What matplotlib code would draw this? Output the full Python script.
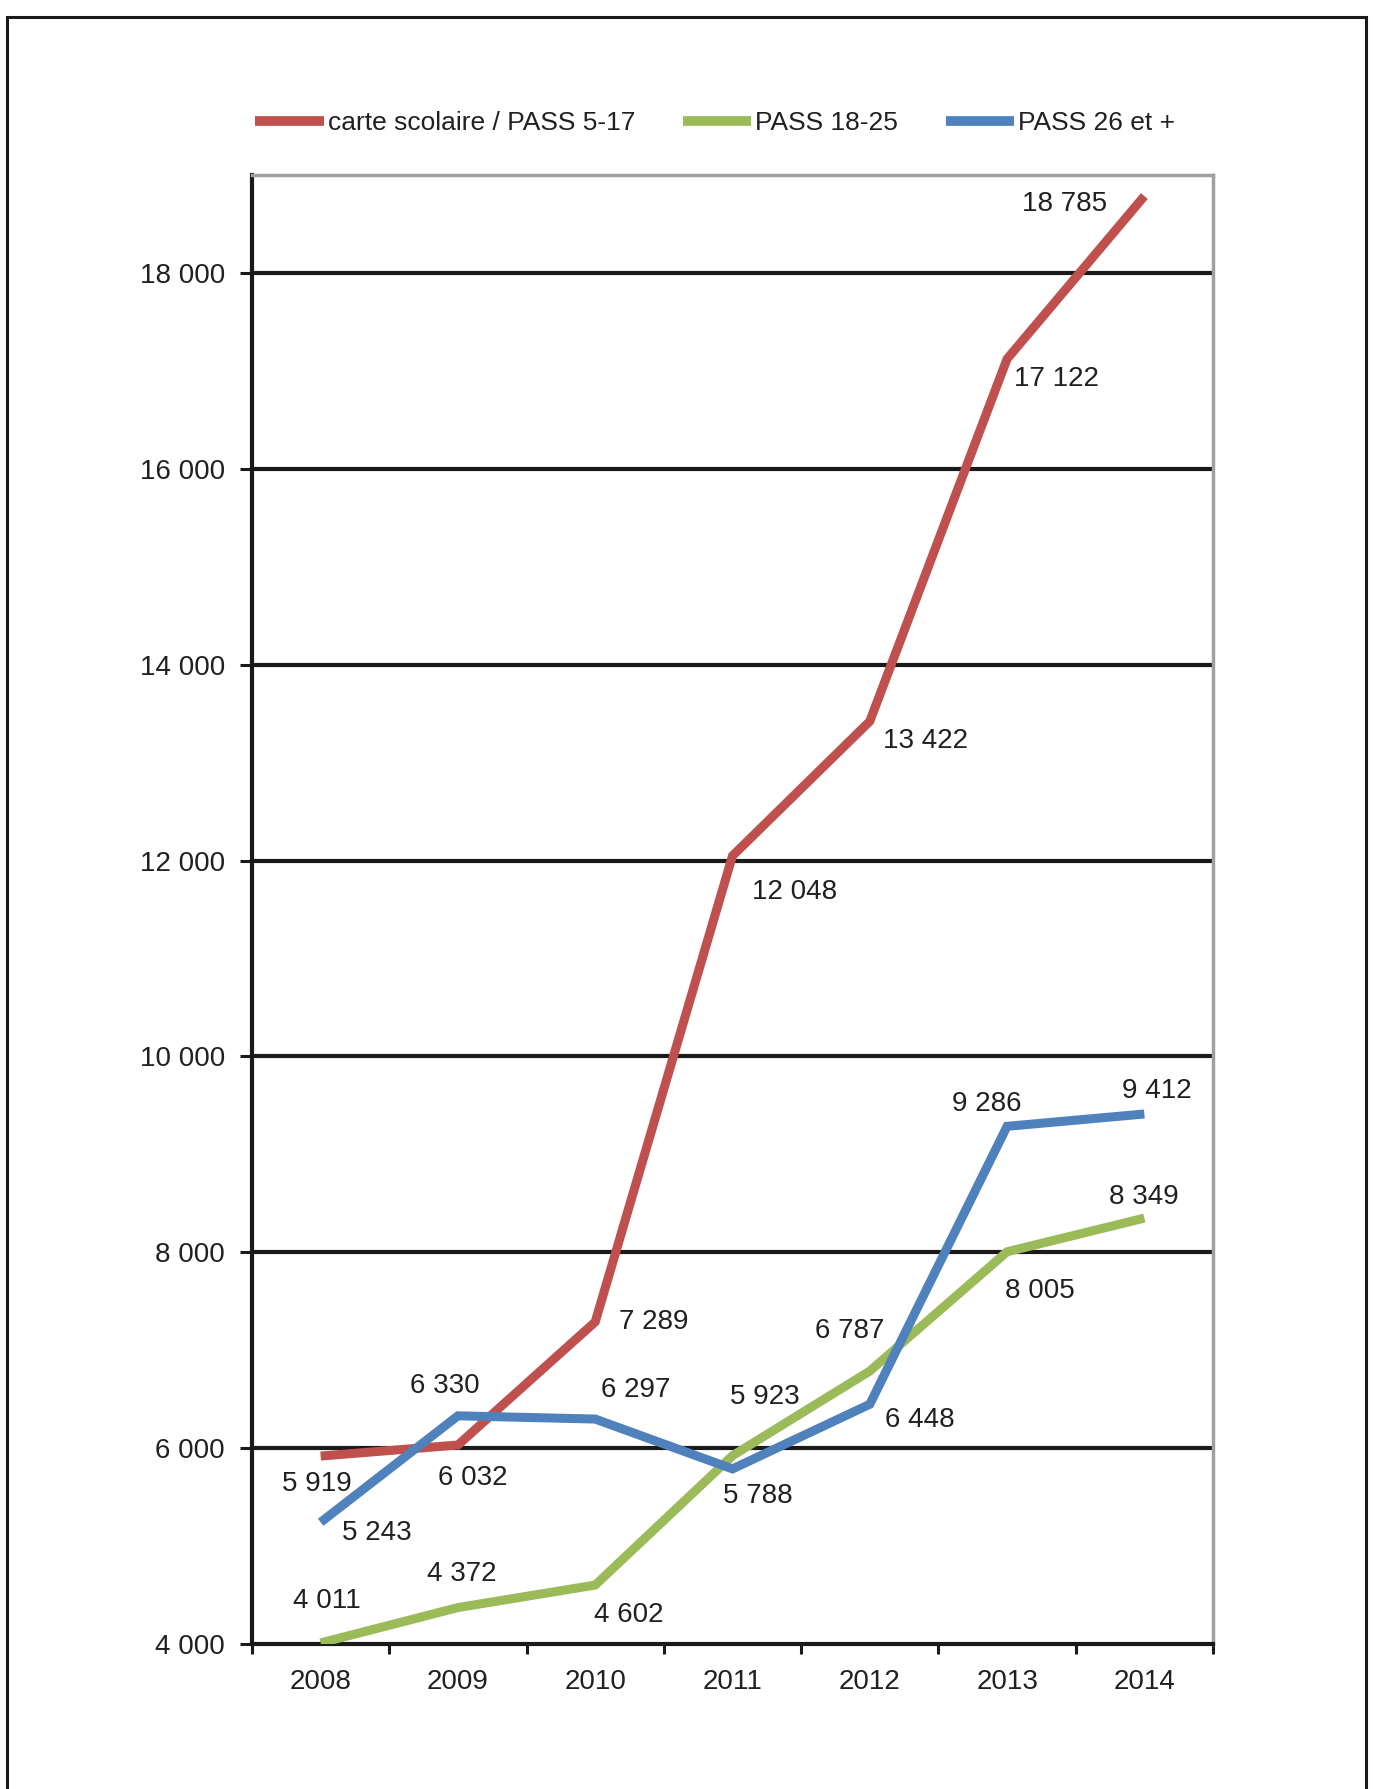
import matplotlib
matplotlib.use("Agg")
import matplotlib.pyplot as plt
from matplotlib.patches import Rectangle

plt.rcParams['font.family'] = ['Liberation Sans', 'DejaVu Sans']

# Données
annees = ['2008', '2009', '2010', '2011', '2012', '2013', '2014']
carte_scolaire = [5919, 6032, 7289, 12048, 13422, 17122, 18785]
pass_18_25 = [4011, 4372, 4602, 5923, 6787, 8005, 8349]
pass_26 = [5243, 6330, 6297, 5788, 6448, 9286, 9412]

# décalage des étiquettes (pixels, y vers le bas)
dec_rouge = [(-4, 28), (15, 33), (59, 0), (62, 36), (56, 20), (49, 20), (-80, 8)]
dec_vert = [(6, -42), (4, -34), (34, 30), (32, -59), (-20, -40), (33, 39), (0, -21)]
dec_bleu = [(56, 11), (-13, -30), (40, -29), (25, 27), (50, 16), (-20, -22), (12, -23)]

ROUGE = '#C0504D'
VERT = '#9BBB59'
BLEU = '#4F81BD'
TEXTE = '#231F20'
TAILLE = 20

def fmt(v):
    return f"{v:,}".replace(',', ' ')

fig = plt.figure(figsize=(13.73, 17.89), dpi=100)
ax = fig.add_axes([252 / 1373, 1 - 1644 / 1789, (1213 - 252) / 1373, (1644 - 175) / 1789])

x = [i + 0.5 for i in range(len(annees))]
series = [
    (carte_scolaire, ROUGE, 'carte scolaire / PASS 5-17', dec_rouge, 3),
    (pass_18_25, VERT, 'PASS 18-25', dec_vert, 4),
    (pass_26, BLEU, 'PASS 26 et +', dec_bleu, 5),
]
for vals, col, lab, decs, z in series:
    ax.plot(x, vals, color=col, lw=6.5, label=lab, zorder=z, solid_capstyle='butt', solid_joinstyle='miter')
    for xi, v, (dx, dy) in zip(x, vals, decs):
        ax.annotate(fmt(v), (xi, v), xytext=(dx, -dy), textcoords='offset pixels',
                    ha='center', va='center', fontsize=TAILLE, color=TEXTE, zorder=6)

ax.set_xlim(0, 7)
ax.set_ylim(4000, 19000)

# quadrillage
for g in range(6000, 19000, 2000):
    ax.axhline(g, color='#1a1a1a', lw=3, zorder=1)

ax.set_yticks(range(4000, 19000, 2000))
ax.set_yticklabels([fmt(v) for v in range(4000, 19000, 2000)], fontsize=TAILLE, color=TEXTE)
ax.tick_params(axis='y', direction='out', length=8.5, width=2.2, color='#1a1a1a', pad=11)

ax.set_xticks(range(8))
ax.set_xticklabels([])
ax.set_xticks(x, minor=True)
ax.set_xticklabels(annees, minor=True, fontsize=TAILLE, color=TEXTE)
ax.tick_params(axis='x', which='major', direction='out', length=7, width=2.2, color='#1a1a1a')
ax.tick_params(axis='x', which='minor', length=0, pad=18)

for s in ['left', 'bottom']:
    ax.spines[s].set_color('#1a1a1a')
    ax.spines[s].set_linewidth(3)
for s in ['top', 'right']:
    ax.spines[s].set_color('#a0a0a0')
    ax.spines[s].set_linewidth(2.5)

leg = fig.legend(loc='center', bbox_to_anchor=(0.521, 0.931), ncol=3, frameon=False,
                 fontsize=19, handlelength=2.6, handletextpad=0.15, columnspacing=1.8)
for t in leg.get_texts():
    t.set_color(TEXTE)
for h in leg.legend_handles:
    h.set_linewidth(7)

# cadre extérieur
fig.patches.append(Rectangle((7 / 1373, -0.01), (1366 - 7) / 1373, 1.01 - 17 / 1789,
                             transform=fig.transFigure, fill=False, edgecolor='#1a1a1a', lw=2.2))

fig.savefig('out.png', dpi=100)
